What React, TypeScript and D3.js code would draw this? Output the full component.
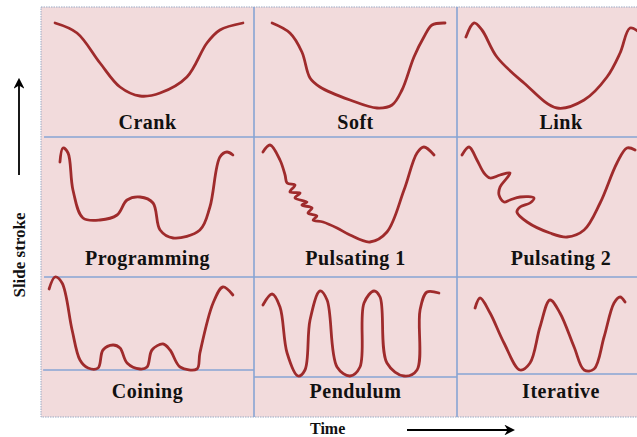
import React, { useRef, useEffect } from "react";
import * as d3 from "d3";

// panel titles, row by row
const panelNames = [
  "Crank", "Soft", "Link",
  "Programming", "Pulsating 1", "Pulsating 2",
  "Coining", "Pendulum", "Iterative",
];

// each curve: [time (% of panel), slide stroke]
const crank = [[6.6, 94], [16.9, 84], [27.7, 54], [37.1, 30], [46.5, 21], [55.9, 24], [68.5, 40], [77.9, 74], [84.0, 87], [94.8, 94]];
const soft = [[8.9, 94], [17.7, 84], [23.6, 65], [27.6, 39], [32.5, 30], [47.3, 17], [60.6, 9], [68.0, 12], [72.9, 27], [78.8, 60], [83.7, 80], [87.7, 92], [94.1, 94]];
const link = [[4.3, 80], [8.2, 94], [12.0, 87], [19.2, 60], [32.2, 34], [48.1, 9], [61.1, 17], [72.1, 40], [78.4, 64], [83.2, 89], [88.0, 84]];
const programming = [[8.9, 85], [10.3, 99], [12.7, 94], [15.0, 57], [19.7, 29], [27.7, 27], [35.7, 32], [40.4, 47], [46.5, 50], [52.6, 44], [55.9, 17], [62.0, 9], [74.6, 17], [79.3, 40], [84.0, 90], [87.3, 95], [90.1, 92]];
const pulsating1 = [[4.4, 95], [7.9, 102], [12.8, 87], [15.3, 72], [16.3, 64], [20.2, 62], [17.7, 55], [22.7, 54], [20.2, 49], [26.1, 45], [23.6, 42], [28.6, 39], [26.6, 34], [31.0, 31], [29.1, 27], [34.0, 25], [40.9, 19], [47.3, 12], [57.1, 5], [65.5, 15], [73.9, 57], [80.3, 94], [83.7, 100], [88.7, 92]];
const pulsating2 = [[2.4, 92], [5.8, 100], [9.6, 87], [13.0, 74], [15.9, 69], [20.7, 72], [25.5, 74], [24.0, 69], [20.7, 60], [20.2, 52], [22.6, 45], [25.5, 47], [30.3, 50], [37.0, 49], [35.1, 44], [30.3, 40], [28.8, 35], [33.7, 25], [44.7, 14], [52.9, 10], [61.1, 17], [68.8, 44], [76.9, 84], [81.7, 99], [85.6, 97]];
const coining = [[3.8, 98], [6.6, 110], [9.9, 104], [14.6, 57], [18.3, 27], [22.1, 19], [26.8, 19], [29.1, 37], [33.8, 42], [37.1, 39], [40.4, 24], [46.5, 18], [49.8, 20], [52.1, 37], [57.3, 43], [60.6, 37], [65.3, 20], [73.2, 18], [74.6, 34], [80.8, 84], [85.4, 100], [90.1, 92]];
const pendulum = [[4.4, 82], [8.9, 93], [12.8, 80], [16.3, 34], [21.7, 11], [25.1, 17], [27.6, 67], [32.5, 96], [36.0, 87], [40.9, 20], [47.3, 11], [52.2, 20], [54.2, 84], [59.1, 96], [62.1, 90], [65.5, 24], [73.9, 11], [80.3, 17], [81.8, 77], [85.2, 95], [91.1, 94]];
const iterative = [[8.7, 79], [11.1, 89], [15.9, 74], [22.6, 44], [30.3, 17], [35.1, 24], [39.9, 60], [44.7, 87], [49.5, 74], [56.3, 40], [61.1, 17], [65.9, 18], [70.7, 50], [75.5, 84], [78.4, 90], [80.8, 85]];

const curves = [crank, soft, link, programming, pulsating1, pulsating2, coining, pendulum, iterative];

// flat dwell level drawn under the bottom-row curves
const baselines = [null, null, null, null, null, null, 17, 10, 13];

const App = () => {
  const svgRef = useRef(null);

  useEffect(() => {
    const width = 637;
    const height = 437;
    const colEdges = [41, 254, 457, 665];
    const rowEdges = [7, 137, 277, 417];
    const labelY = [129, 265, 398];

    const svg = d3.select(svgRef.current);
    svg.selectAll("*").remove();
    svg
      .attr("width", width)
      .attr("height", height)
      .attr("style", "position:absolute;left:0;top:0;font-family:'Liberation Serif','Times New Roman',serif;");

    svg.append("rect").attr("width", width).attr("height", height).attr("fill", "#ffffff");

    // pink area
    svg
      .append("rect")
      .attr("x", colEdges[0])
      .attr("y", rowEdges[0])
      .attr("width", colEdges[3] - colEdges[0])
      .attr("height", rowEdges[3] - rowEdges[0])
      .attr("fill", "#f2dbdc")
      .attr("stroke", "#9aa9c4")
      .attr("stroke-width", 1)
      .attr("stroke-dasharray", "1.5,1");

    const grid = svg.append("g").attr("stroke", "#87a4d4").attr("stroke-width", 1.6);
    [1, 2].forEach((c) =>
      grid.append("line")
        .attr("x1", colEdges[c]).attr("x2", colEdges[c])
        .attr("y1", rowEdges[0]).attr("y2", rowEdges[3])
    );
    [1, 2].forEach((r) =>
      grid.append("line")
        .attr("x1", colEdges[0] + 3).attr("x2", colEdges[3])
        .attr("y1", rowEdges[r]).attr("y2", rowEdges[r])
    );

    panelNames.forEach((name, i) => {
      const col = i % 3;
      const row = Math.floor(i / 3);
      const x = d3.scaleLinear().domain([0, 100]).range([colEdges[col], colEdges[col + 1]]);
      const y = d3.scaleLinear().domain([0, 100]).range([rowEdges[row] + 110, rowEdges[row] + 10]);

      const base = baselines[i];
      if (base !== null) {
        svg.append("line")
          .attr("x1", x(col === 0 ? 1 : 0)).attr("x2", x(100))
          .attr("y1", y(base)).attr("y2", y(base))
          .attr("stroke", "#87a4d4")
          .attr("stroke-width", 1.6);
      }

      const line = d3
        .line()
        .x((d) => x(d[0]))
        .y((d) => y(d[1]))
        .curve(d3.curveCatmullRom.alpha(0.5));

      svg.append("path")
        .attr("d", line(curves[i]))
        .attr("fill", "none")
        .attr("stroke", "#9f2b2c")
        .attr("stroke-width", 2.8)
        .attr("stroke-linecap", "round")
        .attr("stroke-linejoin", "round");

      svg.append("text")
        .attr("x", x(50))
        .attr("y", labelY[row])
        .attr("text-anchor", "middle")
        .attr("font-size", 20)
        .attr("font-weight", "bold")
        .attr("letter-spacing", 0.5)
        .attr("fill", "#111")
        .text(name);
    });

    // axis hints
    svg.append("defs")
      .append("marker")
      .attr("id", "head")
      .attr("viewBox", "0 0 10 10")
      .attr("refX", 8)
      .attr("refY", 5)
      .attr("markerWidth", 6)
      .attr("markerHeight", 6)
      .attr("orient", "auto")
      .append("path")
      .attr("d", "M0,0L10,5L0,10L3,5Z")
      .attr("fill", "#000");

    svg.append("line")
      .attr("x1", 19).attr("x2", 19)
      .attr("y1", 175).attr("y2", 80)
      .attr("stroke", "#000").attr("stroke-width", 1.8)
      .attr("marker-end", "url(#head)");

    svg.append("text")
      .attr("transform", "translate(25,255) rotate(-90)")
      .attr("text-anchor", "middle")
      .attr("font-size", 17)
      .attr("font-weight", "bold")
      .attr("fill", "#111")
      .text("Slide stroke");

    svg.append("line")
      .attr("x1", 407).attr("x2", 513)
      .attr("y1", 430).attr("y2", 430)
      .attr("stroke", "#000").attr("stroke-width", 1.8)
      .attr("marker-end", "url(#head)");

    svg.append("text")
      .attr("x", 310)
      .attr("y", 434)
      .attr("font-size", 16)
      .attr("font-weight", "bold")
      .attr("fill", "#111")
      .text("Time");
  }, []);

  return <svg ref={svgRef}></svg>;
};

export default App;
